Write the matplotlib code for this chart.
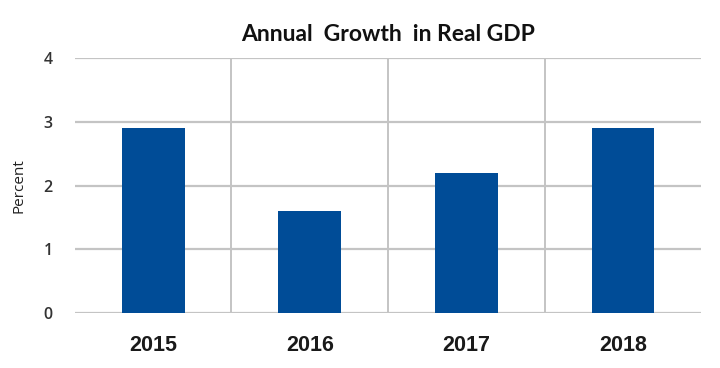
import matplotlib
matplotlib.use("Agg")
import matplotlib.pyplot as plt
import numpy as np

years = ["2015", "2016", "2017", "2018"]
growth = [2.9, 1.6, 2.2, 2.9]
yticks = [0, 1, 2, 3, 4]

bar_color = "#004c97"
grid_color = "#c4c4c4"

fig = plt.figure(figsize=(7.2, 3.68), dpi=100)
ax = fig.add_axes([0.104, 0.149, 0.870, 0.693])

x = np.arange(len(years))
ax.bar(x, growth, width=0.4, color=bar_color, zorder=3)

ax.set_xlim(-0.5, len(years) - 0.5)
ax.set_ylim(0, 4)
ax.set_yticks(yticks)
ax.set_yticklabels([str(v) for v in yticks], fontfamily="Open Sans",
                   fontsize=11.5, fontweight="semibold", color="#333333")
ax.set_xticks(x)
ax.set_xticklabels(years, fontfamily="Liberation Sans", fontweight="bold",
                   fontsize=15.5, color="#1a1a1a")
ax.set_xticks(np.arange(len(years) - 1) + 0.5, minor=True)

ax.tick_params(axis="both", which="both", length=0)
ax.tick_params(axis="y", pad=16)
ax.tick_params(axis="x", pad=16)

ax.grid(axis="y", which="major", color=grid_color, linewidth=1.6, zorder=0)
ax.grid(axis="x", which="minor", color=grid_color, linewidth=1.4, zorder=0)
ax.grid(axis="x", which="major", visible=False)
for s in ax.spines.values():
    s.set_visible(False)

ax.set_ylabel("Percent", fontfamily="Open Sans", fontsize=11, color="#222222",
              labelpad=12)
ax.set_title("Annual  Growth  in Real GDP", fontfamily="Lato", fontweight="bold",
             fontsize=16.5, color="#111111", pad=12)

fig.savefig("out.png", dpi=100, facecolor="white")
